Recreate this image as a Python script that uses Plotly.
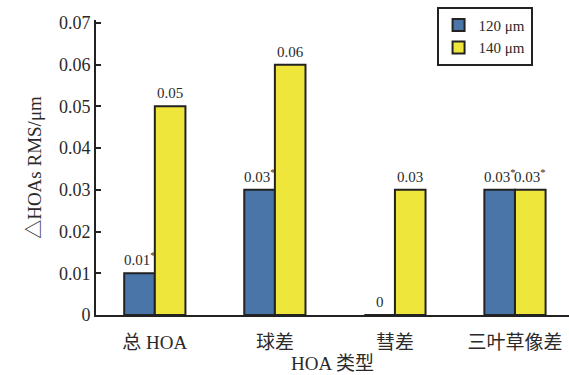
import plotly.graph_objects as go

# HOA categories and RMS differences for the two sizes
categories = ["总 HOA", "球差", "彗差", "三叶草像差"]
rms_120 = [0.01, 0.03, 0.0, 0.03]
rms_140 = [0.05, 0.06, 0.03, 0.03]
sig_120 = [True, True, False, True]
sig_140 = [False, False, False, True]
y_max = 0.07
y_step = 0.01

FONT = "Liberation Serif, Times New Roman, Noto Sans CJK SC, serif"
INK = "#2a2a2a"
BARGAP = 0.49
HALF = (1 - BARGAP) / 4  # offset of each bar centre from the category centre


def label(v, flag):
    s = "0" if v == 0 else f"{v:.2f}"
    return s + ("<sup>*</sup>" if flag else "")


fig = go.Figure()
fig.add_trace(go.Bar(
    name="120 μm", x=categories, y=rms_120,
    marker=dict(color="#4a75a8", line=dict(color="#222222", width=2)),
))
fig.add_trace(go.Bar(
    name="140 μm", x=categories, y=rms_140,
    marker=dict(color="#efe63c", line=dict(color="#222222", width=2)),
))

# value labels above each bar
for i in range(len(categories)):
    for vals, flags, sign in ((rms_120, sig_120, -1), (rms_140, sig_140, 1)):
        fig.add_annotation(
            x=i + sign * HALF, y=vals[i], xref="x", yref="y",
            text=label(vals[i], flags[i]), showarrow=False,
            yanchor="bottom", xanchor="center", yshift=3,
            font=dict(family=FONT, size=15, color=INK),
        )

fig.update_layout(
    width=569, height=375,
    margin=dict(l=96, r=0, t=20, b=60),
    barmode="group", bargap=BARGAP, bargroupgap=0,
    plot_bgcolor="white", paper_bgcolor="white",
    font=dict(family=FONT, size=18, color=INK),
    showlegend=True,
    legend=dict(
        x=0.72, y=1.045, xanchor="left", yanchor="top",
        bordercolor="#222222", borderwidth=2, bgcolor="white",
        font=dict(family=FONT, size=15, color=INK),
        tracegroupgap=0, itemwidth=30,
    ),
    xaxis=dict(
        range=[-0.49, 3.45], showline=True, linecolor="#222222", linewidth=2,
        ticks="outside", ticklen=9, tickcolor="rgba(0,0,0,0)",
        showgrid=False, zeroline=False,
        tickfont=dict(family=FONT, size=19, color=INK),
        title=dict(text="HOA 类型", font=dict(family=FONT, size=19, color=INK), standoff=4),
    ),
    yaxis=dict(
        range=[0, y_max * 1.01], showline=True, linecolor="#222222", linewidth=2,
        ticks="inside", ticklen=5, tickwidth=1.5, tickcolor="#222222",
        tick0=0, dtick=y_step,
        showgrid=False, zeroline=False,
        tickfont=dict(family=FONT, size=18, color=INK),
        title=dict(text="△HOAs RMS/μm", font=dict(family=FONT, size=19, color=INK), standoff=12),
    ),
)

fig.write_html("out.html")
